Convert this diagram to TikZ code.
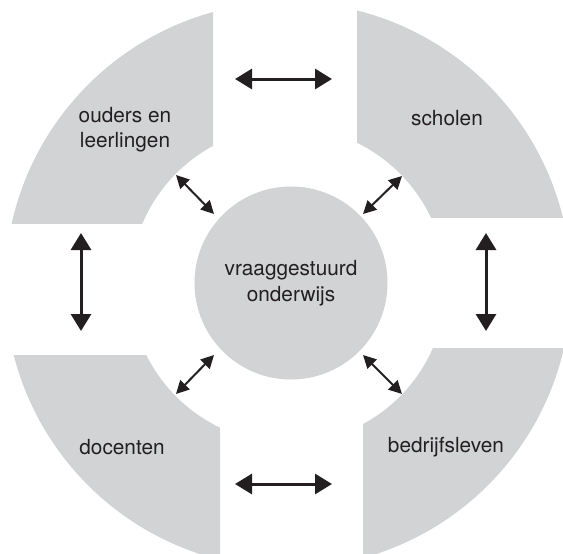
\documentclass[tikz,border=0pt]{standalone}
\usepackage{fontspec}
\setmainfont{TeX Gyre Heros}
\usetikzlibrary{arrows.meta}
\definecolor{partgray}{HTML}{D1D3D4}
\definecolor{inkdark}{HTML}{231F20}

\begin{document}
\begin{tikzpicture}[x=1pt, y=-1pt,
    ringpart/.style={fill=partgray, even odd rule},
    hub/.style={circle, fill=partgray, minimum size=193pt, inner sep=0pt, align=center, text=inkdark, font=\fontsize{20.8}{26}\selectfont},
    lbl/.style={align=center, text=inkdark, font=\fontsize{20.8}{25}\selectfont},
    biglink/.style={{Triangle[length=17pt, width=20pt]}-{Triangle[length=17pt, width=20pt]}, line width=3pt, inkdark},
    smalllink/.style={{Triangle[length=13pt, width=13pt]}-{Triangle[length=13pt, width=13pt]}, line width=2pt, inkdark}
  ]
    \clip (0,0) rectangle (563,554);

    % Ring parts
    \begin{scope}
      \clip (-50,-50) rectangle (213,223);
      \fill[ringpart] (288,285) circle (283) (288,285) circle (158);
    \end{scope}
    \begin{scope}
      \clip (357,-50) rectangle (613,217);
      \fill[ringpart] (288,285) circle (283) (288,285) circle (158);
    \end{scope}
    \begin{scope}
      \clip (-50,355) rectangle (220,604);
      \fill[ringpart] (288,285) circle (283) (288,285) circle (158);
    \end{scope}
    \begin{scope}
      \clip (363,348) rectangle (613,604);
      \fill[ringpart] (288,285) circle (283) (288,285) circle (158);
    \end{scope}

    % Labels
    \node[lbl] (ouders) at (125,130) {ouders en\\leerlingen};
    \node[lbl] (scholen) at (447,118) {scholen};
    \node[lbl] (docenten) at (122,447) {docenten};
    \node[lbl] (bedrijf) at (446,447) {bedrijfsleven};

    % Centre
    \node[hub] (vraag) at (291,283) {vraaggestuurd\\onderwijs};

    % Arrow ends
    \coordinate (topL) at (235,79);
    \coordinate (topR) at (332,79);
    \coordinate (botL) at (235,484);
    \coordinate (botR) at (332,484);
    \coordinate (lefT) at (81,233);
    \coordinate (lefB) at (81,331);
    \coordinate (rigT) at (486,233);
    \coordinate (rigB) at (486,331);
    \coordinate (dTLa) at (176,175);
    \coordinate (dTLb) at (214,214);
    \coordinate (dTRa) at (363,214);
    \coordinate (dTRb) at (402,176);
    \coordinate (dBLa) at (176,394);
    \coordinate (dBLb) at (214,355);
    \coordinate (dBRa) at (363,355);
    \coordinate (dBRb) at (402,394);

    % Links between parts
    \draw[biglink] (topL) -- (topR);
    \draw[biglink] (botL) -- (botR);
    \draw[biglink] (lefT) -- (lefB);
    \draw[biglink] (rigT) -- (rigB);

    % Links to the centre
    \draw[smalllink] (dTLa) -- (dTLb);
    \draw[smalllink] (dTRa) -- (dTRb);
    \draw[smalllink] (dBLa) -- (dBLb);
    \draw[smalllink] (dBRa) -- (dBRb);
  \end{tikzpicture}
\end{document}
